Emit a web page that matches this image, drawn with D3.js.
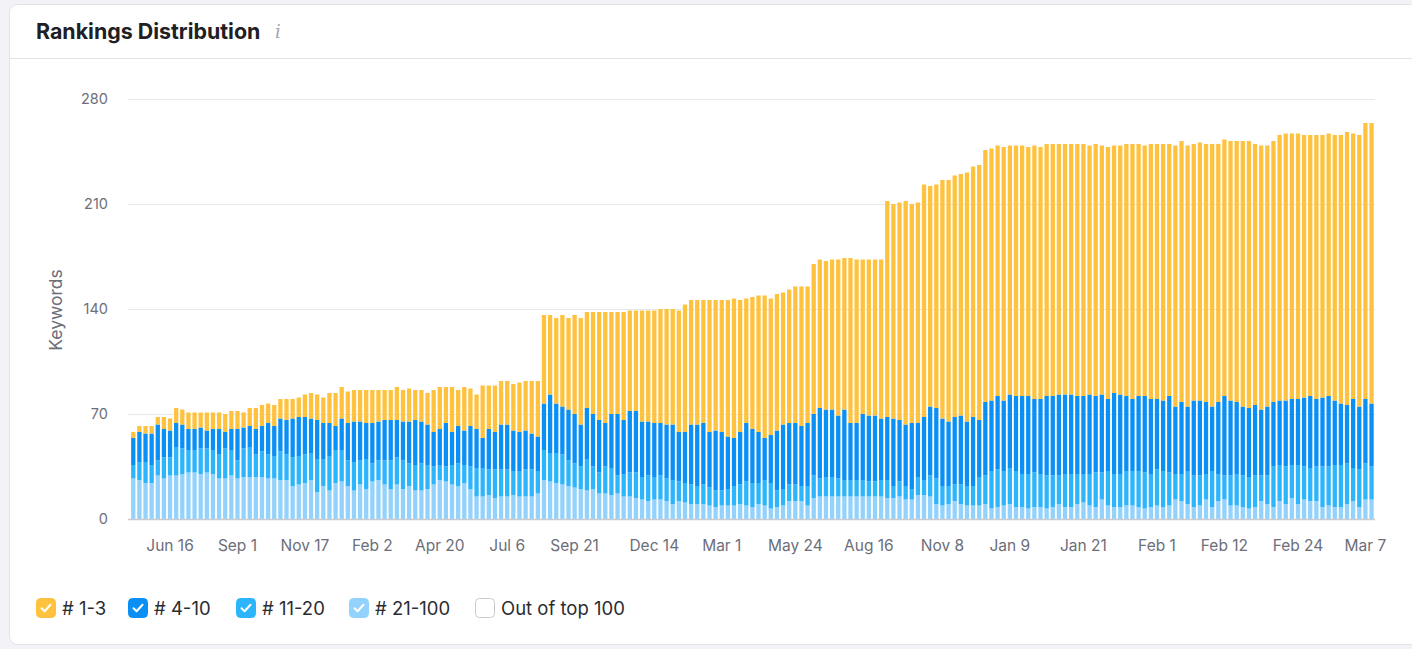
<!DOCTYPE html>
<html>
<head>
<meta charset="utf-8">
<script src="https://cdn.jsdelivr.net/npm/d3@7"></script>
<style>
  html, body { margin: 0; padding: 0; background: #f3f3f7; }
  svg { display: block; font-family: Inter, "Noto Sans", sans-serif; }
</style>
</head>
<body>
<svg id="chart" width="1412" height="649"></svg>
<script>
// Rankings distribution: keywords per position bucket, one bar per snapshot
const top3 = [
  4,4,5,5,5,8,8,10,10,11,11,10,12,11,11,12,12,12,10,12,14,14,13,14,13,14,13,13,15,17,17,17,20,22,21,
  21,21,21,22,22,21,20,20,22,21,22,20,21,21,28,28,24,30,24,29,25,23,35,29,31,29,29,31,33,33,35,37,
  59,53,57,61,61,66,71,64,68,72,74,68,68,72,67,67,74,74,75,76,77,77,81,85,83,83,82,88,87,88,91,93,
  88,83,88,91,95,91,91,88,89,91,93,91,100,99,99,100,104,101,110,109,103,104,104,106,144,143,145,149,146,147,155,147,149,
  159,161,161,161,166,167,170,168,168,167,169,166,167,167,166,169,168,168,168,167,167,167,168,168,166,168,
  166,168,165,166,168,170,168,167,170,170,171,168,174,174,174,171,172,172,175,172,171,173,174,177,178,174,176,174,174,177,178,177,177,175,174,176,175,175,177,179,182,177,181,184,187
];
const top10 = [
  18,20,19,21,24,19,18,16,16,14,14,14,12,14,17,11,14,21,14,14,17,17,21,20,22,23,26,26,25,23,26,24,22,16,21,
  25,27,26,24,27,26,27,27,25,26,28,30,28,27,23,24,29,22,25,23,27,26,20,27,25,30,30,27,26,26,24,23,
  31,39,33,32,34,33,28,34,35,35,29,36,41,36,41,41,37,36,36,35,36,37,33,34,40,41,41,37,40,39,35,32,
  35,39,36,34,28,32,40,43,41,41,40,42,41,47,45,45,42,47,38,38,44,44,44,41,42,45,41,41,44,36,42,46,47,
  45,43,45,46,43,46,38,49,47,49,47,49,50,52,52,49,50,53,53,54,53,53,52,52,53,51,
  52,48,54,53,50,48,50,51,50,47,47,51,45,48,43,50,50,48,43,48,53,50,48,46,46,47,44,46,43,43,44,44,44,46,48,45,46,47,43,41,39,46,42,43,42
];
const top20 = [
  9,12,14,12,10,14,12,19,17,15,15,17,16,16,16,20,17,12,19,20,15,17,16,15,19,17,19,19,19,18,22,18,23,22,21,
  17,19,16,20,12,13,16,19,18,19,15,17,18,16,12,10,10,13,15,12,15,19,19,17,19,18,18,16,17,18,18,15,
  20,19,20,20,17,16,15,21,15,14,18,18,12,15,16,17,15,17,15,16,15,16,13,13,13,12,13,12,11,10,11,13,
  13,16,16,14,17,17,11,11,11,11,10,13,15,12,13,13,12,11,11,11,11,10,10,11,12,8,10,9,7,12,10,14,17,
  13,12,11,13,13,13,19,19,25,25,23,24,24,22,23,23,22,22,21,19,22,22,20,19,21,23,
  18,23,22,22,23,23,24,24,22,24,24,22,17,18,22,21,20,17,24,18,16,20,21,21,21,21,17,19,27,24,25,22,26,22,22,23,27,26,28,28,27,22,25,24,22
];
const top100 = [
  27,26,24,24,29,27,29,29,30,31,31,30,31,30,27,27,29,27,28,28,28,28,27,27,26,26,22,23,24,26,18,22,19,24,25,
  22,19,23,20,25,26,23,20,23,20,22,19,19,20,23,26,25,23,22,24,20,15,15,16,14,15,15,16,15,15,15,17,
  26,25,24,23,22,21,20,19,20,17,17,16,17,15,15,14,13,12,13,13,12,10,12,11,10,10,10,9,8,9,9,9,
  10,9,8,10,9,7,8,9,12,12,12,9,14,15,15,15,15,15,15,15,15,15,15,15,14,14,15,13,13,16,16,15,10,
  9,10,12,10,9,9,9,10,7,8,9,10,8,8,7,8,8,7,8,10,8,8,10,11,9,8,
  13,9,8,8,9,9,8,7,8,9,8,9,13,12,10,8,9,13,8,12,13,9,9,8,7,8,12,10,8,12,10,14,10,13,12,12,8,9,8,8,10,12,8,13,13
];

const tickLabels = ['Jun 16', 'Sep 1', 'Nov 17', 'Feb 2', 'Apr 20', 'Jul 6', 'Sep 21', 'Dec 14', 'Mar 1',
  'May 24', 'Aug 16', 'Nov 8', 'Jan 9', 'Jan 21', 'Feb 1', 'Feb 12', 'Feb 24', 'Mar 7'];
const tickIndex = [6, 17, 28, 39, 50, 61, 72, 85, 96, 108, 120, 132, 143, 155, 167, 178, 190, 201];
const yTicks = [0, 70, 140, 210, 280];

const legendItems = [
  { key: 'top3', label: '# 1-3', color: '#ffc23e', on: true },
  { key: 'top10', label: '# 4-10', color: '#0a8ff5', on: true },
  { key: 'top20', label: '# 11-20', color: '#2cb4fd', on: true },
  { key: 'top100', label: '# 21-100', color: '#93d2fc', on: true },
  { key: 'out', label: 'Out of top 100', color: '#ffffff', on: false },
];

const rows = top3.map((d, i) => ({
  i: i, top100: top100[i], top20: top20[i], top10: top10[i], top3: top3[i],
}));

const svg = d3.select('#chart');
const W = 1412, H = 649;

// card
svg.append('rect')
  .attr('x', 9.5).attr('y', 4.5)
  .attr('width', 1430).attr('height', 640)
  .attr('rx', 8)
  .attr('fill', '#fff')
  .attr('stroke', '#e2e3e8');

svg.append('text')
  .attr('x', 36).attr('y', 39)
  .attr('font-size', '21.4px')
  .attr('font-weight', 700)
  .attr('fill', '#1f2024')
  .text('Rankings Distribution');

svg.append('text')
  .attr('x', 275).attr('y', 38)
  .attr('font-family', 'DejaVu Serif, serif')
  .attr('font-style', 'italic')
  .attr('font-size', '18px')
  .attr('fill', '#a3a5ad')
  .text('i');

svg.append('line')
  .attr('x1', 10).attr('x2', W)
  .attr('y1', 58.5).attr('y2', 58.5)
  .attr('stroke', '#e2e3e8');

// scales
const x = d3.scaleBand()
  .domain(rows.map((d) => d.i))
  .range([130.2, 1374.6])
  .paddingInner(0.3)
  .paddingOuter(0.15);

const y = d3.scaleLinear().domain([0, 280]).range([519, 99]);

// grid
svg.append('g')
  .selectAll('line')
  .data(yTicks.filter((t) => t > 0))
  .join('line')
  .attr('x1', 128).attr('x2', 1375)
  .attr('y1', (d) => Math.round(y(d)) + 0.5)
  .attr('y2', (d) => Math.round(y(d)) + 0.5)
  .attr('stroke', '#e7e8ec');

// y axis labels
svg.append('g')
  .selectAll('text')
  .data(yTicks)
  .join('text')
  .attr('x', 108)
  .attr('y', (d) => y(d))
  .attr('dy', '0.35em')
  .attr('text-anchor', 'end')
  .attr('font-size', '14.5px')
  .attr('fill', '#6c6e79')
  .text((d) => d);

svg.append('text')
  .attr('transform', 'translate(62,310) rotate(-90)')
  .attr('text-anchor', 'middle')
  .attr('font-size', '17.5px')
  .attr('fill', '#6c6e79')
  .text('Keywords');

// stacked bars
const keys = ['top100', 'top20', 'top10', 'top3'];
const colorOf = {};
legendItems.forEach((d) => { colorOf[d.key] = d.color; });

const series = d3.stack().keys(keys)(rows);

svg.append('g')
  .selectAll('g')
  .data(series)
  .join('g')
  .attr('fill', (s) => colorOf[s.key])
  .selectAll('rect')
  .data((s) => s)
  .join('rect')
  .attr('x', (d) => x(d.data.i))
  .attr('width', x.bandwidth())
  .attr('y', (d) => y(d[1]))
  .attr('height', (d) => y(d[0]) - y(d[1]));

// baseline
svg.append('line')
  .attr('x1', 128).attr('x2', 1375)
  .attr('y1', 519.5).attr('y2', 519.5)
  .attr('stroke', '#c9cbd1')
  .attr('stroke-width', 1.5);

// x labels
svg.append('g')
  .selectAll('text')
  .data(tickLabels)
  .join('text')
  .attr('x', (d, k) => x(tickIndex[k]) + x.bandwidth() / 2)
  .attr('y', 551)
  .attr('text-anchor', 'middle')
  .attr('font-size', '15.5px')
  .attr('fill', '#6c6e79')
  .text((d) => d);

// legend
const legendX = [36, 128, 236, 349, 475];
const lg = svg.append('g')
  .selectAll('g')
  .data(legendItems)
  .join('g')
  .attr('transform', (d, k) => `translate(${legendX[k]},598)`);

lg.append('rect')
  .attr('x', 0.5).attr('y', 0.5)
  .attr('width', 19).attr('height', 19)
  .attr('rx', 4)
  .attr('fill', (d) => d.color)
  .attr('stroke', (d) => (d.on ? d.color : '#c9cbd3'));

lg.filter((d) => d.on)
  .append('path')
  .attr('d', 'M5.5,10.2 L8.6,13.2 L14.5,6.8')
  .attr('fill', 'none')
  .attr('stroke', '#fff')
  .attr('stroke-width', 2)
  .attr('stroke-linecap', 'round')
  .attr('stroke-linejoin', 'round');

lg.append('text')
  .attr('x', 26)
  .attr('y', 10)
  .attr('dy', '0.36em')
  .attr('font-size', '18.5px')
  .attr('fill', '#2b2c31')
  .text((d) => d.label);
</script>
</body>
</html>
